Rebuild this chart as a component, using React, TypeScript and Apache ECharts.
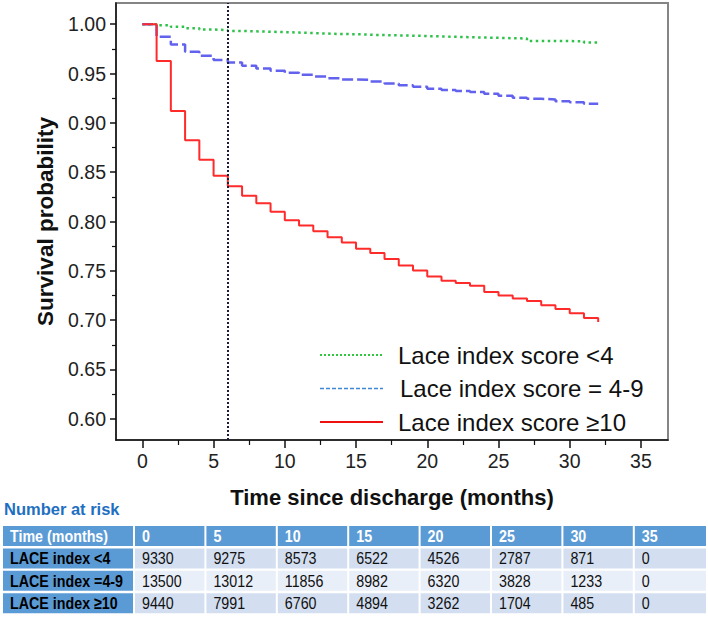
import React, { useEffect, useRef } from "react";
import * as echarts from "echarts";

// ---- data ----
const months = [0,1,2,3,4,5,6,7,8,9,10,11,12,13,14,15,16,17,18,19,20,21,22,23,24,25,26,27,28,29,30,31,32];
const survLow = [1.0,0.999,0.9973,0.996,0.9946,0.994,0.9932,0.9928,0.9924,0.992,0.9915,0.991,0.9905,0.99,0.9899,0.9893,0.989,0.9887,0.9884,0.988,0.9876,0.9872,0.9868,0.9865,0.9862,0.9858,0.9855,0.9831,0.9831,0.9829,0.9827,0.9815,0.9815];
const survMid = [1.0,0.9872,0.9794,0.972,0.968,0.9636,0.9612,0.9578,0.955,0.9527,0.9507,0.9487,0.947,0.9453,0.944,0.9435,0.942,0.94,0.938,0.9366,0.9345,0.9332,0.9322,0.9312,0.9295,0.9274,0.9254,0.9244,0.9238,0.922,0.921,0.9193,0.9193];
const survHigh = [1.0,0.9626,0.912,0.8823,0.8627,0.8465,0.8357,0.826,0.8185,0.81,0.8013,0.796,0.79,0.784,0.7787,0.7723,0.768,0.762,0.7555,0.7504,0.7443,0.74,0.7376,0.7349,0.7285,0.725,0.722,0.7194,0.715,0.7113,0.707,0.7022,0.698];
const seriesNames = ["Lace index score <4", "Lace index score = 4-9", "Lace index score \u226510"];
const cutoffMonth = 6;
const xTicks = [0,5,10,15,20,25,30,35];
const xMinorTicks = [2.5,7.5,12.5,17.5,22.5,27.5,32.5];
const yTicks = [0.6,0.65,0.7,0.75,0.8,0.85,0.9,0.95,1.0];
const yMinorTicks = [0.625,0.675,0.725,0.775,0.825,0.875,0.925,0.975];
const tableHeaderLabel = "Time (months)";
const tableTimes = ["0","5","10","15","20","25","30","35"];
const rowLabels = ["LACE index <4", "LACE index =4-9", "LACE index \u226510"];
const riskLow = [9330,9275,8573,6522,4526,2787,871,0];
const riskMid = [13500,13012,11856,8982,6320,3828,1233,0];
const riskHigh = [9440,7991,6760,4894,3262,1704,485,0];

const FONT = "'Liberation Sans', Arial, sans-serif";

function buildLegend(): any[] {
  const styles = [
    { stroke: "#33c63f", lineWidth: 1.8, lineDash: [2, 2] },
    { stroke: "#3f86d6", lineWidth: 1.6, lineDash: [4, 2] },
    { stroke: "#ee1111", lineWidth: 2, lineDash: null },
  ];
  const ys = [355, 388.5, 422];
  const els: any[] = [];
  seriesNames.forEach((n, i) => {
    els.push({ type: "line", shape: { x1: 320, y1: ys[i], x2: 383, y2: ys[i] }, style: { ...styles[i], fill: null } });
    els.push({
      type: "text", x: i === 1 ? 400 : 398, y: ys[i],
      style: { text: n, fill: "#111", fontSize: 24, fontFamily: FONT,
        textAlign: "left", textVerticalAlign: "middle", align: "left", verticalAlign: "middle" },
    });
  });
  return els;
}

function buildTable(): any[] {
  const els: any[] = [];
  const rows = [riskLow, riskMid, riskHigh];
  const firstX = 3, firstW = 130;
  const colX0 = 135, colPitch = 71.4, colW = 69.4;
  const headerY = 526, rowH = 20, rowPitch = 22.4;
  const blue = "#5b9bd5";
  const cellFills = ["#d3dff0", "#e9eff8", "#d3dff0"];
  const txt = (x: number, y: number, text: string, fill: string, bold: boolean) => ({
    type: "text",
    x, y,
    scaleX: 0.84,
    style: {
      text, fill,
      fontSize: 17,
      fontWeight: bold ? "bold" : "normal",
      fontFamily: FONT,
      textAlign: "left", textVerticalAlign: "middle",
      align: "left", verticalAlign: "middle",
    },
  });
  els.push({
    type: "text", x: 4, y: 509,
    style: { text: "Number at risk", fill: "#1f6fc1", fontSize: 16.5, fontWeight: "bold", fontFamily: FONT,
      textAlign: "left", textVerticalAlign: "middle", align: "left", verticalAlign: "middle" },
  });
  els.push({ type: "rect", shape: { x: firstX, y: headerY, width: firstW, height: rowH }, style: { fill: blue } });
  els.push(txt(firstX + 7, headerY + rowH / 2, tableHeaderLabel, "#ffffff", true));
  tableTimes.forEach((t, i) => {
    const x = colX0 + i * colPitch;
    const w = i === tableTimes.length - 1 ? 706 - x : colW;
    els.push({ type: "rect", shape: { x, y: headerY, width: w, height: rowH }, style: { fill: blue } });
    els.push(txt(x + 7, headerY + rowH / 2, t, "#ffffff", true));
  });
  rows.forEach((vals, r) => {
    const y = headerY + (r + 1) * rowPitch;
    els.push({ type: "rect", shape: { x: firstX, y, width: firstW, height: rowH }, style: { fill: blue } });
    els.push(txt(firstX + 7, y + rowH / 2, rowLabels[r], "#000000", true));
    vals.forEach((v, i) => {
      const x = colX0 + i * colPitch;
      const w = i === vals.length - 1 ? 706 - x : colW;
      els.push({ type: "rect", shape: { x, y, width: w, height: rowH }, style: { fill: cellFills[r] } });
      els.push(txt(x + 7, y + rowH / 2, String(v), "#111111", false));
    });
  });
  return els;
}

export default function App() {
  const ref = useRef<HTMLDivElement>(null);
  useEffect(() => {
    if (!ref.current) return;
    const chart = echarts.init(ref.current, null, { renderer: "svg" });
    const xMin = -1.85, xMax = 36.9, yMin = 0.5785, yMax = 1.0215;
    const mk = (vals: number[]) => months.map((m, i) => [m, vals[i]]);
    const option: any = {
      animation: false,
      backgroundColor: "#ffffff",
      textStyle: { fontFamily: FONT },
      grid: { left: 116, right: 40, top: 3, bottom: 177, show: true, borderColor: "#858585", borderWidth: 2, backgroundColor: "transparent" },
      xAxis: [
        {
          type: "value", min: xMin, max: xMax,
          name: "Time since discharge (months)", nameLocation: "middle", nameGap: 46,
          nameTextStyle: { fontSize: 22, fontWeight: "bold", color: "#111", fontFamily: FONT },
          axisLine: { show: true, onZero: false, lineStyle: { color: "#111", width: 1.5 } },
          axisTick: { show: true, customValues: xTicks, length: 8, lineStyle: { color: "#111", width: 1.5 } },
          axisLabel: { customValues: xTicks, fontSize: 19.5, color: "#222", margin: 11, fontFamily: FONT },
          splitLine: { show: false },
        },
        {
          type: "value", min: xMin, max: xMax, position: "bottom",
          axisLine: { show: false, onZero: false },
          axisTick: { show: true, customValues: xMinorTicks, length: 5, lineStyle: { color: "#111", width: 1.2 } },
          axisLabel: { show: false },
          splitLine: { show: false },
        },
      ],
      yAxis: [
        {
          type: "value", min: yMin, max: yMax,
          name: "Survival probability", nameLocation: "middle", nameGap: 58, nameRotate: 90,
          nameTextStyle: { fontSize: 22.5, fontWeight: "bold", color: "#111", fontFamily: FONT },
          axisLine: { show: true, onZero: false, lineStyle: { color: "#111", width: 1.5 } },
          axisTick: { show: true, customValues: yTicks, length: 6, lineStyle: { color: "#111", width: 1.5 } },
          axisLabel: { customValues: yTicks, fontSize: 19.5, color: "#222", margin: 10, fontFamily: FONT, formatter: (v: number) => v.toFixed(2) },
          splitLine: { show: false },
        },
        {
          type: "value", min: yMin, max: yMax, position: "left",
          axisLine: { show: false, onZero: false },
          axisTick: { show: true, customValues: yMinorTicks, length: 4, lineStyle: { color: "#111", width: 1.2 } },
          axisLabel: { show: false },
          splitLine: { show: false },
        },
      ],
      series: [
        {
          name: seriesNames[0], type: "line", step: "end", symbol: "none", showSymbol: false,
          data: mk(survLow), xAxisIndex: 0, yAxisIndex: 0,
          lineStyle: { color: "#2fc24a", width: 2.5, type: [2.5, 3.5] },
          itemStyle: { color: "#2fc24a" },
          markLine: {
            silent: true, symbol: ["none", "none"], label: { show: false },
            lineStyle: { color: "#1c1c3a", width: 2, type: [2, 2] },
            data: [{ xAxis: cutoffMonth }],
          },
        },
        {
          name: seriesNames[1], type: "line", step: "end", symbol: "none", showSymbol: false,
          data: mk(survMid), xAxisIndex: 0, yAxisIndex: 0,
          lineStyle: { color: "#6262ee", width: 2.5, type: [11, 4] },
          itemStyle: { color: "#6262ee" },
        },
        {
          name: seriesNames[2], type: "line", step: "end", symbol: "none", showSymbol: false,
          data: mk(survHigh), xAxisIndex: 0, yAxisIndex: 0,
          lineStyle: { color: "#ff2a2a", width: 2 },
          itemStyle: { color: "#ff2a2a" },
        },
      ],
      graphic: [...buildLegend(), ...buildTable()],
    };
    chart.setOption(option);
    return () => chart.dispose();
  }, []);
  return <div ref={ref} style={{ position: "absolute", left: 0, top: 0, width: 708, height: 617 }} />;
}
